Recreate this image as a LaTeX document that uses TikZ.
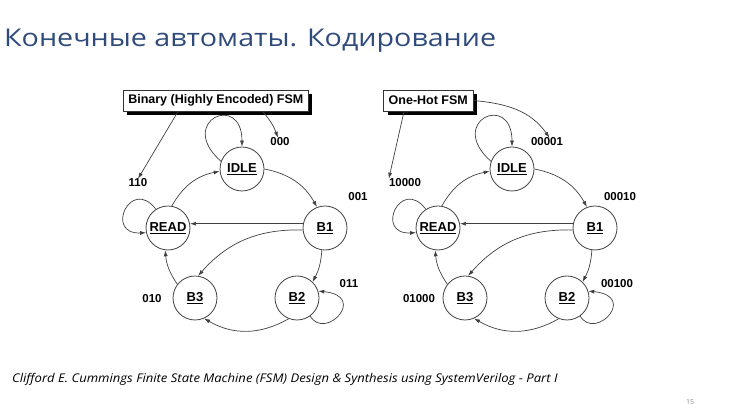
\documentclass[tikz,border=0pt]{standalone}
\usepackage{fontspec}
\setmainfont{Open Sans}
\newfontfamily\titlefont[FakeStretch=1.17]{Open Sans}
\newfontfamily\notefont[FakeStretch=1.09]{Open Sans}
\newfontfamily\arialfont{Liberation Sans}
\usetikzlibrary{arrows.meta,shadows}
\definecolor{titleblue}{HTML}{2F4B7C}
\begin{document}
\begin{tikzpicture}[x=1pt,y=1pt,
  state/.style={circle,draw=black!75,line width=0.8pt,minimum size=44pt,inner sep=0pt,
    font=\arialfont\bfseries\fontsize{13}{13}\selectfont},
  code/.style={inner sep=0pt,font=\arialfont\bfseries\fontsize{11.5}{12}\selectfont},
  fsmbox/.style={draw=black!80,line width=0.6pt,fill=white,minimum height=21pt,
    inner xsep=5pt,inner ysep=0pt,font=\arialfont\bfseries\fontsize{12.5}{12.5}\selectfont,
    drop shadow={shadow xshift=4pt,shadow yshift=-4pt,fill=black,opacity=1}},
  trans/.style={draw=black!75,line width=0.7pt,-{Latex[length=6pt,width=4pt]}}]
\useasboundingbox (0,0) rectangle (750,420);
\node[anchor=base west,inner sep=0pt,text=titleblue,font=\titlefont\fontsize{24.5}{25}\selectfont] (title) at (4,373) {Конечные автоматы. Кодирование};
%% binary
\node[state] (idleA) at (242,251) {\underline{IDLE}};
\node[state] (readA) at (168,192) {\underline{READ}};
\node[state] (b1A) at (325,192) {\underline{B1}};
\node[state] (b2A) at (297,122) {\underline{B2}};
\node[state] (b3A) at (195,122) {\underline{B3}};
\node[code] (cIdleA) at (280,278) {000};
\node[code] (cReadA) at (138,237) {110};
\node[code] (cB1A) at (358,223) {001};
\node[code] (cB2A) at (349,136) {011};
\node[code] (cB3A) at (152,121) {010};
\draw[trans] (idleA.160) .. controls +(-45,40) and +(0,55) .. (idleA.north);
\draw[trans] (readA.123) .. controls +(-25,33) and +(-42,-2) .. (readA.192);
\draw[trans] (b2A.-54) .. controls +(15,-25) and +(50,-5) .. (b2A.18);
\draw[trans] (readA.80) to[bend left=25] (idleA.186);
\draw[trans] (idleA.0) to[bend left=25] (b1A.111);
\draw[trans] (b1A.169) -- (readA.11);
\draw[trans] (b1A.185) to[bend right=25] (b3A.82);
\draw[trans] (b1A.262) to[bend left=12] (b2A.46);
\draw[trans] (b2A.248) to[bend left=30] (b3A.294);
\draw[trans] (b3A.142) to[bend left=15] (readA.263);
\node[fsmbox] (boxA) at (215.8,319.5) {Binary (Highly Encoded) FSM};
\draw[trans] (boxA.196) -- (cReadA.north);
\draw[trans] (boxA.-13) to[bend left=10] (cIdleA.115);
%% one-hot
\node[state] (idleB) at (512,251) {\underline{IDLE}};
\node[state] (readB) at (438,192) {\underline{READ}};
\node[state] (b1B) at (595,192) {\underline{B1}};
\node[state] (b2B) at (567,122) {\underline{B2}};
\node[state] (b3B) at (465,122) {\underline{B3}};
\node[code] (cIdleB) at (547,278) {00001};
\node[code] (cReadB) at (405,237) {10000};
\node[code] (cB1B) at (620,223) {00010};
\node[code] (cB2B) at (617,136) {00100};
\node[code] (cB3B) at (419,121) {01000};
\draw[trans] (idleB.160) .. controls +(-45,40) and +(0,55) .. (idleB.north);
\draw[trans] (readB.123) .. controls +(-25,33) and +(-42,-2) .. (readB.192);
\draw[trans] (b2B.-54) .. controls +(15,-25) and +(50,-5) .. (b2B.18);
\draw[trans] (readB.80) to[bend left=25] (idleB.186);
\draw[trans] (idleB.0) to[bend left=25] (b1B.111);
\draw[trans] (b1B.169) -- (readB.11);
\draw[trans] (b1B.185) to[bend right=25] (b3B.82);
\draw[trans] (b1B.262) to[bend left=12] (b2B.46);
\draw[trans] (b2B.248) to[bend left=30] (b3B.294);
\draw[trans] (b3B.142) to[bend left=15] (readB.263);
\node[fsmbox] (boxB) at (428.3,319.5) {One-Hot FSM};
\draw[trans] (boxB.204) -- (cReadB.north west);
\draw[trans] (boxB.east) to[out=-5,in=125] (cIdleB.60);
%% footer
\node[anchor=base west,inner sep=0pt,font=\notefont\itshape\fontsize{12}{12}\selectfont] (source) at (12,37) {Clifford E. Cummings Finite State Machine (FSM) Design \& Synthesis using SystemVerilog - Part I};
\node[inner sep=0pt,text=black!45,font=\fontsize{7}{7}\selectfont] (page) at (690,18) {15};
\end{tikzpicture}
\end{document}
